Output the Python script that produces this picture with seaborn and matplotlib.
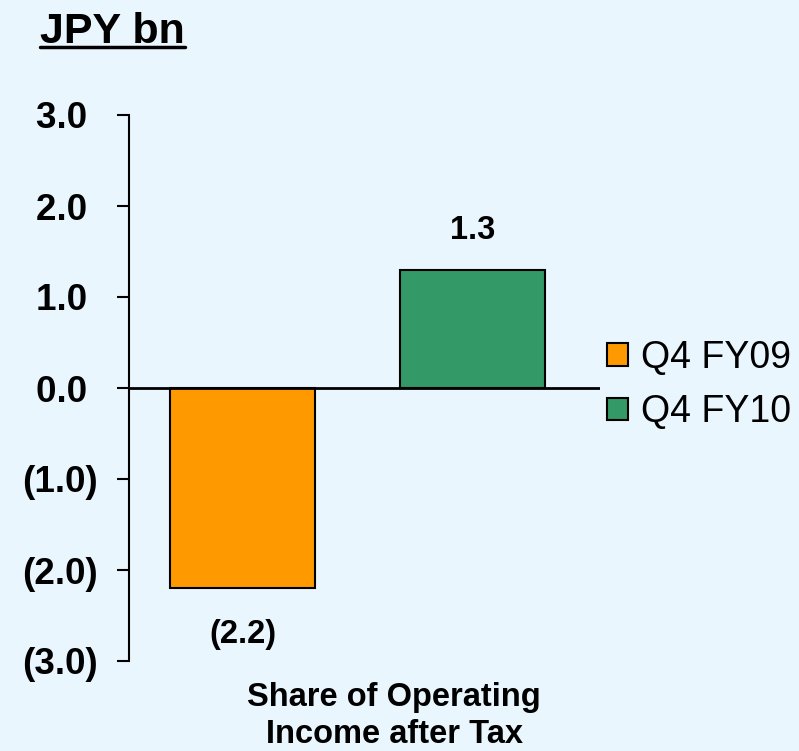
import matplotlib
matplotlib.use("Agg")
import matplotlib.pyplot as plt
import seaborn as sns
import pandas as pd
from matplotlib.lines import Line2D

categories = ["Share of Operating\nIncome after Tax"]
periods = ["Q4 FY09", "Q4 FY10"]
values = [-2.2, 1.3]
yticks = [3.0, 2.0, 1.0, 0.0, -1.0, -2.0, -3.0]
ytick_labels = ["3.0 ", "2.0 ", "1.0 ", "0.0 ", "(1.0)", "(2.0)", "(3.0)"]
colors = ["#FF9900", "#339966"]
bg = "#EAF6FE"

df = pd.DataFrame({"metric": [categories[0]] * len(periods),
                   "period": periods, "value": values})

sns.set_theme(style="white")
plt.rcParams["font.family"] = ["Liberation Sans", "DejaVu Sans"]
plt.rcParams["text.color"] = "black"
plt.rcParams["axes.labelcolor"] = "black"
plt.rcParams["xtick.color"] = "black"
plt.rcParams["ytick.color"] = "black"

fig = plt.figure(figsize=(7.99, 7.51), dpi=100, facecolor=bg)
ax = fig.add_axes([129 / 799, 1 - 661 / 751, 471 / 799, 546 / 751])
ax.set_facecolor(bg)

sns.barplot(data=df, x="metric", y="value", hue="period", palette=colors,
            saturation=1, width=0.8, gap=0.37, edgecolor="black",
            linewidth=1.5, ax=ax, legend=True)

ax.set_ylim(-3, 3)
ax.set_xlim(-0.398, 0.421)
ax.set_yticks(yticks)
ax.set_yticklabels(ytick_labels, fontsize=26.5, fontweight="bold", color="black")
ax.tick_params(axis="y", direction="out", length=8.6, width=1.5, color="black",
               pad=14, left=True)
ax.set_xticks([])
ax.set_xlabel("")
ax.set_ylabel("")
for s in ["top", "right", "bottom"]:
    ax.spines[s].set_visible(False)
ax.spines["left"].set_color("black")
ax.spines["left"].set_linewidth(1.5)
ax.axhline(0, color="black", linewidth=2, zorder=5)

fmt = lambda v: f"{v:.1f}" if v >= 0 else f"({-v:.1f})"
for cont, v in zip(ax.containers, values):
    ax.bar_label(cont, fmt=fmt, padding=17 if v >= 0 else 22, fontsize=23.5,
                 fontweight="bold", color="black")

ax.get_legend().remove()
handles = [plt.Rectangle((0, 0), 1, 1, facecolor=c, edgecolor="black",
                         linewidth=1.5) for c in colors]
fig.legend(handles, periods, loc="center left",
           bbox_to_anchor=(607 / 799, 1 - 385 / 751), frameon=False,
           fontsize=27, handlelength=0.55, handleheight=0.55,
           handletextpad=0.35, labelspacing=0.5, borderaxespad=0,
           borderpad=0)

fig.text(394 / 799, 1 - 743 / 751, categories[0], ha="center",
         va="baseline", fontsize=23.5, fontweight="bold", linespacing=1.25,
         multialignment="center")

fig.text(40 / 799, 1 - 43 / 751, "JPY bn", ha="left", va="baseline",
         fontsize=31, fontweight="bold")
fig.add_artist(Line2D([40 / 799, 185 / 799], [1 - 47 / 751, 1 - 47 / 751],
                      color="black", linewidth=2.5, transform=fig.transFigure))

fig.savefig("out.png", dpi=100, facecolor=bg)
